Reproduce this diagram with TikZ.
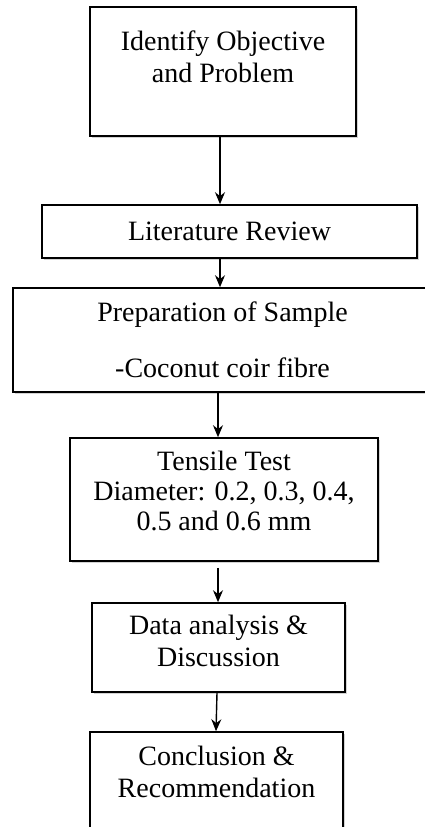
\documentclass[tikz,border=0pt]{standalone}
\usepackage{fontspec}
\setmainfont{Liberation Serif}
\usetikzlibrary{arrows.meta,shadows}

\tikzset{
  stepbox/.style={draw=black,line width=1.6pt,fill=white,align=center,
    inner sep=0pt,font=\fontsize{28}{32}\selectfont,
    drop shadow={shadow xshift=1.5pt,shadow yshift=-1.5pt,opacity=0.35}},
  flow/.style={line width=1.4pt,-{Stealth[length=12pt,width=10pt]}}
}

\begin{document}
\begin{tikzpicture}[x=1pt,y=1pt]
            \useasboundingbox (0,0) rectangle (424,-827);

            \node[stepbox,minimum width=266,minimum height=129] (objective) at (223,-71.5)
              {Identify Objective\\and Problem\\[-3pt]~};
            \node[stepbox,minimum width=375,minimum height=53] (review) at (229.5,-231.5)
              {Literature Review};
            \node[stepbox,minimum width=419,minimum height=104] (sample) at (222.5,-340)
              {Preparation of Sample\\[24pt]-Coconut coir fibre};
            \node[stepbox,minimum width=308,minimum height=123] (tensile) at (224,-499.5)
              {Tensile Test\\[-2pt]Diameter: 0.2, 0.3, 0.4,\\[-2pt]0.5 and 0.6 mm\\[-14pt]~};
            \node[stepbox,minimum width=253,minimum height=89] (analysis) at (218.5,-647.5)
              {Data analysis \&\\Discussion\\[-19pt]~};
            \node[stepbox,minimum width=253,minimum height=118] (conclusion) at (216.5,-791)
              {Conclusion \&\\Recommendation\\[7pt]~};

            \draw[flow] ([xshift=-3pt]objective.south) -- ([xshift=-3pt]objective.south |- review.north);
            \draw[flow] ([xshift=-9.5pt]review.south) -- ([xshift=-9.5pt]review.south |- sample.north);
            \draw[flow] ([xshift=-4.5pt]sample.south) -- ([xshift=-4.5pt]sample.south |- tensile.north);
            \draw[flow,shorten <=6pt] ([xshift=-6pt]tensile.south) -- ([xshift=-6pt]tensile.south |- analysis.north);
            \draw[flow] ([xshift=-1.5pt]analysis.south) -- ([xshift=-0.5pt]conclusion.north);
\end{tikzpicture}
\end{document}
